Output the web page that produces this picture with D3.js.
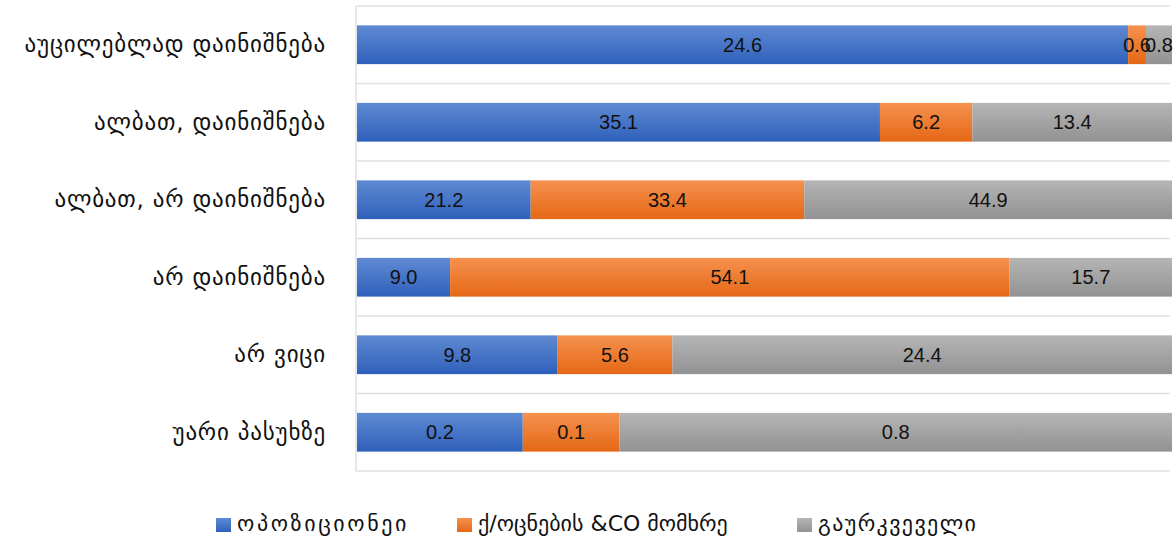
<!DOCTYPE html>
<html><head><meta charset="utf-8">
<script src="https://cdn.jsdelivr.net/npm/d3@7"></script>
<style>body{margin:0;background:#fff}svg{display:block}</style>
</head><body><svg id="c" width="1176" height="542"></svg>
<script>
const categories = ["აუცილებლად დაინიშნება","ალბათ, დაინიშნება","ალბათ, არ დაინიშნება","არ დაინიშნება","არ ვიცი","უარი პასუხზე"];
const seriesNames = ["ოპოზიციონეი","ქ/ოცნების &CO მომხრე","გაურკვეველი"];
const opposition = [24.6, 35.1, 21.2, 9.0, 9.8, 0.24];
const dreamCo    = [0.57, 6.2, 33.4, 54.1, 5.6, 0.14];
const undecided  = [0.83, 13.4, 44.9, 15.7, 24.4, 0.8];
const colors = [["#5f8ad3","#2f60ba"],["#f5914f","#e56815"],["#b5b5b5","#929292"]];

const svg = d3.select("#c");
const m = {l:356, r:1172, t:6, b:471};
const rows = categories.map((c,i)=>({cat:c, v:[opposition[i], dreamCo[i], undecided[i]]}));
const y = d3.scaleBand().domain(categories).range([m.t, m.b]).paddingInner(0.5).paddingOuter(0.25);
const x = d3.scaleLinear().domain([0,1]).range([m.l+1, m.r]);

const defs = svg.append("defs");
colors.forEach((c,i)=>{
  const g = defs.append("linearGradient").attr("id","g"+i).attr("x1",0).attr("y1",0).attr("x2",0).attr("y2",1);
  g.append("stop").attr("offset","0%").attr("stop-color",c[0]);
  g.append("stop").attr("offset","100%").attr("stop-color",c[1]);
});

// grid lines at band boundaries
const bounds = d3.range(categories.length+1).map(i=>m.t + i*(m.b-m.t)/categories.length);
svg.append("g").selectAll("line").data(bounds).join("line")
  .attr("x1",m.l).attr("x2",1170).attr("y1",d=>d).attr("y2",d=>d)
  .attr("stroke","#dde1e6").attr("stroke-width",1.5);
svg.append("line").attr("x1",m.l).attr("x2",m.l).attr("y1",m.t).attr("y2",m.b)
  .attr("stroke","#dde1e6").attr("stroke-width",1.5);

const yAxis = d3.axisLeft(y).tickSize(0).tickPadding(30);
const ga = svg.append("g").attr("transform",`translate(${m.l},0)`).call(yAxis);
ga.select(".domain").remove();
ga.selectAll("text").attr("font-family","'DejaVu Sans', sans-serif").attr("font-size",23)
  .attr("letter-spacing",0.8).attr("fill","#111");

rows.forEach(r=>{
  const tot = d3.sum(r.v);
  let acc = 0;
  r.v.forEach((v,j)=>{
    const x0 = x(acc/tot), x1 = x((acc+v)/tot);
    svg.append("rect").attr("x",x0).attr("y",y(r.cat)).attr("width",Math.max(0,x1-x0)).attr("height",y.bandwidth())
      .attr("fill",`url(#g${j})`);
    acc += v;
    r["x"+j] = (x0+x1)/2;
  });
  r.v.forEach((v,j)=>{
    svg.append("text").attr("x",r["x"+j]).attr("y",y(r.cat)+y.bandwidth()/2).attr("dy","0.36em")
      .attr("text-anchor","middle").attr("font-family","'Liberation Sans', sans-serif").attr("font-size",20)
      .attr("fill","#111").text(d3.format(".1f")(v));
  });
});

// legend
const legX = [216, 457, 797];
const legSpacing = [2.6, 0, 1.4];
const lg = svg.append("g");
seriesNames.forEach((n,i)=>{
  lg.append("rect").attr("x",legX[i]).attr("y",518).attr("width",15).attr("height",14).attr("fill",`url(#g${i})`);
  lg.append("text").attr("x",legX[i]+21).attr("y",531).attr("font-family","'DejaVu Sans', sans-serif")
    .attr("font-size",22).attr("letter-spacing",legSpacing[i]).attr("fill","#111").text(n);
});
</script></body></html>
